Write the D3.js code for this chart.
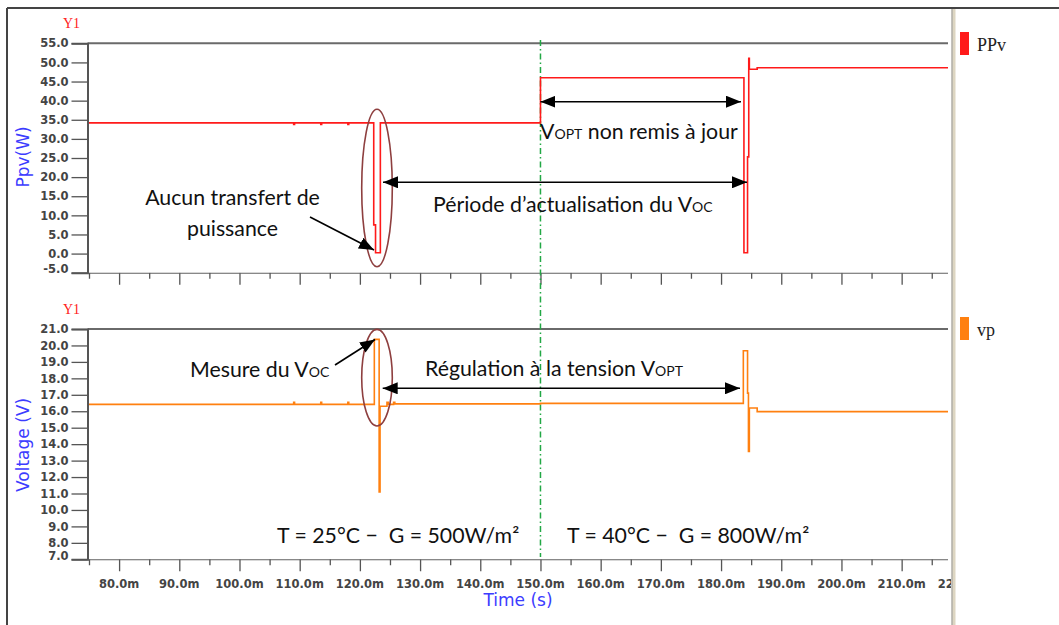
<!DOCTYPE html>
<html><head><meta charset="utf-8">
<script src="https://cdn.jsdelivr.net/npm/d3@7"></script>
<style>html,body{margin:0;padding:0;background:#fff;overflow:hidden}</style>
</head><body><svg id="c" width="1059" height="625"></svg>
<script>
// ---------- data ----------
const timeTicks = [80, 90, 100, 110, 120, 130, 140, 150, 160, 170, 180, 190, 200, 210, 220];
const timeMinorTicks = [75, 85, 95, 105, 115, 125, 135, 145, 155, 165, 175, 185, 195, 205, 215];
const ppvTicks = [-5, 0, 5, 10, 15, 20, 25, 30, 35, 40, 45, 50, 55];
const vpTicks = [7, 8, 9, 10, 11, 12, 13, 14, 15, 16, 17, 18, 19, 20, 21];
const seriesNames = ["PPv", "vp"];

// step series (value holds until next time), time in ms
const ppvTime  = [75, 109, 109.15, 113.5, 113.65, 118, 118.15, 122.3, 122.6, 123.4, 150, 183.8, 184.4, 184.6, 184.7, 186, 217.7];
const ppvValue = [34.2, 33.8, 34.2, 33.8, 34.2, 33.8, 34.2, 7.5, 0.2, 34.2, 46.0, 0.2, 25.3, 51.1, 48.2, 48.6, 48.6];
const vpTime  = [75, 109, 109.15, 113.5, 113.65, 118, 118.15, 122.4, 123.2, 123.35, 124.5, 124.7, 125.6, 125.8, 150, 183.7, 184.4, 184.55, 184.7, 186, 217.7];
const vpValue = [16.42, 16.55, 16.42, 16.55, 16.42, 16.55, 16.42, 20.37, 11.1, 16.3, 16.55, 16.42, 16.55, 16.45, 16.48, 19.68, 17.1, 13.56, 16.2, 15.98, 15.98];
const changeTime = 150;

// ---------- layout ----------
const svg = d3.select("#c");
const L = 87.5, R = 948;
const x = d3.scaleLinear().domain([75, 217.7]).range([89, 948]);
const yP = d3.scaleLinear().domain([-5, 55]).range([272.7, 43.3]);
const yV = d3.scaleLinear().domain([7, 21]).range([559.3, 329]);
const RED = "#ff1a1a", ORANGE = "#ff8010", BLUE = "#3c3cff";
const tickFont = "DejaVu Sans, sans-serif";
const annFont = "Lato, sans-serif";

// frame
svg.append("line").attr("x1", 7).attr("x2", 1059).attr("y1", 8).attr("y2", 8).attr("stroke", "#444").attr("stroke-width", 2);
svg.append("line").attr("x1", 7).attr("x2", 7).attr("y1", 8).attr("y2", 625).attr("stroke", "#444").attr("stroke-width", 2);
svg.append("rect").attr("x", 951.5).attr("y", 9).attr("width", 4).attr("height", 616).attr("fill", "#ddd6c2");
svg.append("line").attr("x1", 952).attr("x2", 952).attr("y1", 9).attr("y2", 625).attr("stroke", "#9a9a9a").attr("stroke-width", 1);

svg.append("defs").append("clipPath").attr("id", "plotclip")
  .append("rect").attr("x", L).attr("y", 0).attr("width", R - L).attr("height", 625);
svg.select("defs").append("clipPath").attr("id", "labclip")
  .append("rect").attr("x", 0).attr("y", 0).attr("width", 951).attr("height", 625);

function panel(y, ticks, titleText, titleY) {
  const [b, t] = y.range();
  const g = svg.append("g");
  g.append("line").attr("x1", L).attr("x2", R).attr("y1", t).attr("y2", t).attr("stroke", "#6a6a6a").attr("stroke-width", 2);
  const ax = g.append("g").attr("transform", `translate(${L},0)`)
    .call(d3.axisLeft(y).tickValues(ticks).tickSize(16).tickPadding(3).tickFormat(d => d.toFixed(1)));
  ax.select(".domain").attr("stroke", "#555").attr("stroke-width", 2);
  ax.selectAll(".tick line").attr("stroke", "#555").attr("stroke-width", 1.3);
  ax.selectAll("text").attr("font-family", tickFont).attr("font-size", 11.5).attr("font-weight", "bold").attr("fill", "#444");
  ax.selectAll(".tick").filter(d => d === ticks[0]).select("text").attr("dy", "0.02em");
  const bx = g.append("g").attr("transform", `translate(0,${b})`);
  bx.call(d3.axisBottom(x).tickValues(timeTicks).tickSize(12).tickFormat(""));
  bx.select(".domain").remove();
  bx.append("line").attr("x1", L).attr("x2", R).attr("stroke", "#606060").attr("stroke-width", 2);
  const mx = g.append("g").attr("transform", `translate(0,${b})`)
    .call(d3.axisBottom(x).tickValues(timeMinorTicks).tickSize(6).tickFormat(""));
  mx.select(".domain").remove();
  g.selectAll(".tick line").attr("stroke", "#555").attr("stroke-width", 1.3);
  bx.attr("clip-path", "url(#plotclip)");
  mx.attr("clip-path", "url(#plotclip)");
  svg.append("text").attr("x", 63).attr("y", t - 15).text("Y1")
    .attr("font-family", "Liberation Serif, serif").attr("font-size", 14).attr("fill", "#ff2020");
  svg.append("text").attr("transform", `translate(29,${titleY}) rotate(-90)`)
    .attr("text-anchor", "middle").text(titleText)
    .attr("font-family", tickFont).attr("font-size", 17).attr("fill", BLUE);
  return g;
}
panel(yP, ppvTicks, "Ppv(W)", 157);
panel(yV, vpTicks, "Voltage (V)", 445);

// x tick labels (bottom panel only)
const xl = svg.append("g").attr("clip-path", "url(#labclip)");
xl.selectAll("text").data(timeTicks).join("text")
  .attr("x", d => x(d)).attr("y", 588).attr("text-anchor", "middle")
  .text(d => d.toFixed(1) + "m")
  .attr("font-family", tickFont).attr("font-size", 11.5).attr("font-weight", "bold").attr("fill", "#444");
svg.append("text").attr("x", 518).attr("y", 606).attr("text-anchor", "middle").text("Time (s)")
  .attr("font-family", tickFont).attr("font-size", 17).attr("fill", BLUE);

// green separation line
svg.append("line").attr("x1", x(changeTime)).attr("x2", x(changeTime)).attr("y1", 40).attr("y2", 557)
  .attr("stroke", "#22a845").attr("stroke-width", 1.5).attr("stroke-dasharray", "6,3,1.5,3");

// series
const ppvData = ppvTime.map((t, i) => [t, ppvValue[i]]);
const vpData = vpTime.map((t, i) => [t, vpValue[i]]);
svg.append("path").datum(ppvData).attr("clip-path", "url(#plotclip)")
  .attr("d", d3.line().x(d => x(d[0])).y(d => yP(d[1])).curve(d3.curveStepAfter))
  .attr("fill", "none").attr("stroke", RED).attr("stroke-width", 1.6);
svg.append("path").datum(vpData).attr("clip-path", "url(#plotclip)")
  .attr("d", d3.line().x(d => x(d[0])).y(d => yV(d[1])).curve(d3.curveStepAfter))
  .attr("fill", "none").attr("stroke", ORANGE).attr("stroke-width", 1.6);

// legend
const legY = [32, 317];
[RED, ORANGE].forEach((c, i) => {
  svg.append("rect").attr("x", 960).attr("y", legY[i]).attr("width", 9).attr("height", 23).attr("fill", c);
  svg.append("text").attr("x", 977).attr("y", legY[i] + 19).text(seriesNames[i])
    .attr("font-family", "Liberation Serif, serif").attr("font-size", 18).attr("fill", "#222");
});

// ---------- annotations ----------
const defs = svg.select("defs");
defs.append("marker").attr("id", "ah").attr("viewBox", "0 0 15 12").attr("refX", 15).attr("refY", 6)
  .attr("markerWidth", 15).attr("markerHeight", 12).attr("markerUnits", "userSpaceOnUse").attr("orient", "auto-start-reverse")
  .append("path").attr("d", "M0,0L15,6L0,12Z").attr("fill", "#000");

function arrow(x1, y1, x2, y2, both) {
  const l = svg.append("line").attr("x1", x1).attr("y1", y1).attr("x2", x2).attr("y2", y2)
    .attr("stroke", "#000").attr("stroke-width", 1.6).attr("marker-end", "url(#ah)");
  if (both) l.attr("marker-start", "url(#ah)");
}
function ann(xp, yp, main, sub, tail, anchor) {
  const t = svg.append("text").attr("x", xp).attr("y", yp).attr("font-family", annFont).attr("font-size", 21.3)
    .attr("fill", "#111").attr("text-anchor", anchor || "start").style("white-space", "pre");
  t.append("tspan").text(main);
  if (sub) t.append("tspan").attr("font-size", 14).text(sub);
  if (tail) t.append("tspan").text(tail);
}
svg.append("ellipse").attr("cx", 377).attr("cy", 188).attr("rx", 15.3).attr("ry", 78.7)
  .attr("fill", "none").attr("stroke", "#8e3f3f").attr("stroke-width", 1.6);
svg.append("ellipse").attr("cx", 377).attr("cy", 377.7).attr("rx", 15.3).attr("ry", 48.3)
  .attr("fill", "none").attr("stroke", "#8e3f3f").attr("stroke-width", 1.6);

arrow(x(150), 101.7, 741, 101.7, true);
arrow(383, 182.3, 747, 182.3, true);
arrow(382.7, 388.3, 740, 388.3, true);
arrow(310, 217, 374, 250, false);
arrow(335, 365, 375, 339.5, false);

ann(232.5, 205, "Aucun transfert de", null, null, "middle");
ann(232.5, 236, "puissance", null, null, "middle");
ann(433, 212, "Période d’actualisation du V", "OC");
ann(540, 139, "V", "OPT", " non remis à jour");
ann(190, 377, "Mesure du V", "OC");
ann(425, 376, "Régulation à la tension V", "OPT");
ann(277, 543, "T = 25°C −  G = 500W/m²");
ann(567, 543, "T = 40°C −  G = 800W/m²");
</script></body></html>
